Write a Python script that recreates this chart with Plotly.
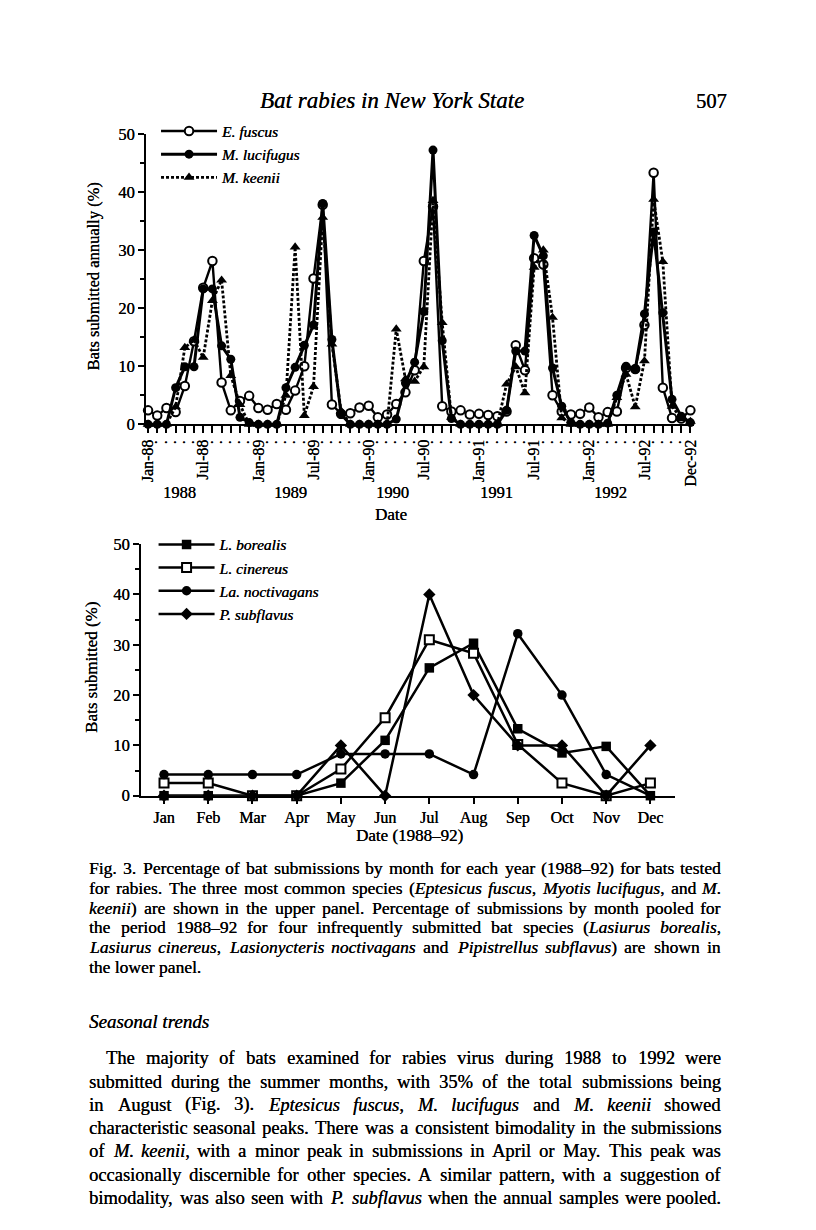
import re
import plotly.graph_objects as go

# Figure size; positions below are given in target-picture pixels and mapped to
# figure pixels with the offset/scale measured between earlier renders and the picture.
W, H = 800, 1214
MAP_A, MAP_S = 16.0, 0.986
SERIF = "Liberation Serif"
INK_CHART = "0.3px 0px 0px #000"   # slight thickening, like the printed scan
INK_TEXT = "0.15px 0px 0px #000"

# ---------------- data: upper panel (monthly, Jan-88 .. Dec-92) ----------------
years = ["88", "89", "90", "91", "92"]
month_names = ["Jan", "Feb", "Mar", "Apr", "May", "Jun",
               "Jul", "Aug", "Sep", "Oct", "Nov", "Dec"]
months_upper = [f"{m}-{y}" for y in years for m in month_names]
labelled_ticks = ["Jan-88", "Jul-88", "Jan-89", "Jul-89", "Jan-90", "Jul-90",
                  "Jan-91", "Jul-91", "Jan-92", "Jul-92", "Dec-92"]
year_labels = ["1988", "1989", "1990", "1991", "1992"]

e_fuscus = [
    2.4, 1.5, 2.8, 2.1, 6.6, 14.3, 23.5, 28.1, 7.2, 2.4, 4.0, 4.9,
    2.8, 2.5, 3.5, 2.5, 5.8, 10.0, 25.1, 37.8, 3.4, 1.8, 1.9, 2.9,
    3.2, 1.2, 1.7, 3.5, 5.5, 9.3, 28.1, 37.5, 3.1, 2.2, 2.4, 1.7,
    1.8, 1.6, 1.4, 2.2, 13.6, 9.3, 28.6, 27.5, 5.0, 2.2, 1.7, 1.8,
    2.9, 1.2, 2.1, 2.2, 9.7, 9.5, 17.1, 43.3, 6.3, 1.1, 1.0, 2.4]
m_lucifugus = [
    0, 0, 0, 6.3, 9.9, 9.9, 23.3, 23.3, 13.5, 11.2, 1.2, 0.3,
    0, 0, 0, 6.3, 9.8, 13.6, 17.1, 38.0, 14.6, 1.7, 0, 0,
    0, 0, 0, 0.9, 7.1, 10.7, 19.4, 47.2, 14.4, 1.0, 0, 0,
    0, 0, 0, 2.4, 12.6, 12.6, 32.5, 29.0, 9.7, 3.1, 0.3, 0,
    0, 0, 0.2, 5.0, 10.0, 9.5, 19.0, 33.1, 19.2, 4.3, 1.4, 0.3]
m_keenii = [
    0, 0, 0, 3.0, 13.2, 14.5, 11.5, 21.3, 24.8, 8.4, 3.4, 0,
    0, 0, 0, 5.0, 30.5, 1.5, 6.5, 35.6, 13.8, 2.3, 0, 0,
    0, 0, 0, 16.4, 7.8, 7.4, 9.9, 38.5, 17.5, 1.2, 0, 0,
    0, 0, 0, 6.9, 9.9, 5.4, 27.0, 30.0, 18.4, 1.1, 0, 0,
    0, 0, 0, 4.6, 8.6, 3.0, 10.9, 38.7, 28.0, 3.1, 1.0, 0.5]

# ---------------- data: lower panel (pooled by month) ----------------
months_lower = month_names
l_borealis = [0, 0, 0, 0, 2.5, 11.0, 25.4, 30.3, 13.3, 8.5, 9.8, 0]
l_cinereus = [2.5, 2.5, 0, 0, 5.3, 15.5, 31.0, 28.3, 10.2, 2.5, 0, 2.5]
la_noctivagans = [4.2, 4.2, 4.2, 4.2, 8.3, 8.3, 8.3, 4.2, 32.2, 20.0, 4.2, 0]
p_subflavus = [0, 0, 0, 0, 10.0, 0, 40.0, 20.0, 10.0, 10.0, 0, 10.0]

# ---------------- text ----------------
header_title = "<i>Bat rabies in New York State</i>"
page_number = "507"
caption_lines = [
    "Fig. 3. Percentage of bat submissions by month for each year (1988–92) for bats tested",
    "for rabies. The three most common species (<i>Eptesicus fuscus</i>, <i>Myotis lucifugus</i>, and <i>M</i>.",
    "<i>keenii</i>) are shown in the upper panel. Percentage of submissions by month pooled for",
    "the period 1988–92 for four infrequently submitted bat species (<i>Lasiurus borealis</i>,",
    "<i>Lasiurus cinereus</i>, <i>Lasionycteris noctivagans</i> and <i>Pipistrellus subflavus</i>) are shown in",
    "the lower panel.",
]
section_title = "<i>Seasonal trends</i>"
body_lines = [
    "The majority of bats examined for rabies virus during 1988 to 1992 were",
    "submitted during the summer months, with 35% of the total submissions being",
    "in August (Fig. 3). <i>Eptesicus fuscus</i>, <i>M. lucifugus</i> and <i>M. keenii</i> showed",
    "characteristic seasonal peaks. There was a consistent bimodality in the submissions",
    "of <i>M. keenii</i>, with a minor peak in submissions in April or May. This peak was",
    "occasionally discernible for other species. A similar pattern, with a suggestion of",
    "bimodality, was also seen with <i>P. subflavus</i> when the annual samples were pooled.",
]


def px_x(p):
    return ((p - MAP_A) / MAP_S) / W


def px_y(p):
    return 1 - ((p - MAP_A) / MAP_S) / H


def font(size, ink=INK_CHART):
    return dict(family=SERIF, size=size, color="black", shadow=ink)


fig = go.Figure()

# upper panel traces
fig.add_trace(go.Scatter(
    x=months_upper, y=e_fuscus, name="<i>E. fuscus</i>", mode="lines+markers",
    line=dict(color="black", width=2.4),
    marker=dict(symbol="circle", size=8.5, color="white", line=dict(color="black", width=2)),
    cliponaxis=False, xaxis="x", yaxis="y", legend="legend"))
fig.add_trace(go.Scatter(
    x=months_upper, y=m_lucifugus, name="<i>M. lucifugus</i>", mode="lines+markers",
    line=dict(color="black", width=3),
    marker=dict(symbol="circle", size=9, color="black"),
    cliponaxis=False, xaxis="x", yaxis="y", legend="legend"))
fig.add_trace(go.Scatter(
    x=months_upper, y=m_keenii, name="<i>M. keenii</i>", mode="lines+markers",
    line=dict(color="black", width=2.8, dash="3px,2px"),
    marker=dict(symbol="triangle-up", size=9.5, color="black"),
    cliponaxis=False, xaxis="x", yaxis="y", legend="legend"))

# lower panel traces
fig.add_trace(go.Scatter(
    x=months_lower, y=l_borealis, name="<i>L. borealis</i>", mode="lines+markers",
    line=dict(color="black", width=2.5),
    marker=dict(symbol="square", size=9.5, color="black"),
    cliponaxis=False, xaxis="x2", yaxis="y2", legend="legend2"))
fig.add_trace(go.Scatter(
    x=months_lower, y=l_cinereus, name="<i>L. cinereus</i>", mode="lines+markers",
    line=dict(color="black", width=2.5),
    marker=dict(symbol="square", size=9, color="white", line=dict(color="black", width=2)),
    cliponaxis=False, xaxis="x2", yaxis="y2", legend="legend2"))
fig.add_trace(go.Scatter(
    x=months_lower, y=la_noctivagans, name="<i>La. noctivagans</i>", mode="lines+markers",
    line=dict(color="black", width=2.5),
    marker=dict(symbol="circle", size=9.5, color="black"),
    cliponaxis=False, xaxis="x2", yaxis="y2", legend="legend2"))
fig.add_trace(go.Scatter(
    x=months_lower, y=p_subflavus, name="<i>P. subflavus</i>", mode="lines+markers",
    line=dict(color="black", width=2.5),
    marker=dict(symbol="diamond", size=9.5, color="black"),
    cliponaxis=False, xaxis="x2", yaxis="y2", legend="legend2"))


def axis_style(tick_size):
    return dict(showline=True, linecolor="black", linewidth=2, showgrid=False,
                zeroline=False, ticks="outside", tickcolor="black", tickwidth=2,
                tickfont=font(tick_size))


minor_ticks = dict(ticks="outside", dtick=5, tick0=0, ticklen=4,
                   tickwidth=1.5, tickcolor="black")
upper_ticktext = [m if m in labelled_ticks else "·" for m in months_upper]

fig.update_layout(
    width=W, height=H, autosize=False,
    margin=dict(l=0, r=0, t=0, b=0),
    paper_bgcolor="white", plot_bgcolor="white",
    font=dict(family=SERIF, color="black"),
    xaxis=dict(domain=[px_x(147), px_x(695)], anchor="y", type="category",
               categoryorder="array", categoryarray=months_upper,
               range=[-0.22, 59.41], tickmode="array", tickvals=months_upper,
               ticktext=upper_ticktext, tickangle=-90, ticklen=7,
               **axis_style(16)),
    yaxis=dict(domain=[px_y(424), px_y(133)], anchor="x", range=[0, 50],
               tickmode="linear", tick0=0, dtick=10, ticklen=6,
               minor=minor_ticks, **axis_style(16.5)),
    xaxis2=dict(domain=[px_x(142), px_x(676)], anchor="y2", type="category",
                categoryorder="array", categoryarray=months_lower,
                range=[-0.52, 11.56], ticklen=6, **axis_style(16)),
    yaxis2=dict(domain=[px_y(796), px_y(544)], anchor="x2", range=[0, 50],
                tickmode="linear", tick0=0, dtick=10, ticklen=6,
                minor=minor_ticks, **axis_style(16.5)),
    legend=dict(x=143 / W, y=1 - 99 / H, xanchor="left", yanchor="top",
                bgcolor="rgba(0,0,0,0)", font=font(15.5),
                itemwidth=56, tracegroupgap=0, itemclick=False),
    legend2=dict(x=140.5 / W, y=1 - 519 / H, xanchor="left", yanchor="top",
                 bgcolor="rgba(0,0,0,0)", font=font(15.5),
                 itemwidth=56, tracegroupgap=0, itemclick=False),
    showlegend=True,
)

annotations = []


def ann(text, x, y, size, xanchor="center", yanchor="middle", angle=0, ink=INK_CHART):
    annotations.append(dict(
        text=text, x=px_x(x), y=px_y(y), xref="paper", yref="paper",
        xanchor=xanchor, yanchor=yanchor, showarrow=False, textangle=angle,
        borderpad=0, borderwidth=0, font=font(size, ink)))


# --- Times-compatible advance widths (per 1000 em) used to justify text lines ---
ROMAN = dict(zip(" abcdefghijklmnopqrstuvwxyz",
                 [250, 444, 500, 444, 500, 444, 333, 500, 500, 278, 278, 500, 278, 778,
                  500, 500, 500, 500, 333, 389, 278, 500, 500, 722, 500, 500, 444]))
ROMAN.update(dict(zip("ABCDEFGHIJKLMNOPQRSTUVWXYZ",
                      [722, 667, 667, 722, 611, 556, 722, 722, 333, 389, 722, 611, 889,
                       722, 722, 556, 722, 667, 556, 611, 722, 722, 944, 722, 722, 611])))
ITALIC = dict(zip(" abcdefghijklmnopqrstuvwxyz",
                  [250, 500, 500, 444, 500, 444, 278, 500, 500, 278, 278, 444, 278, 722,
                   500, 500, 500, 500, 389, 389, 278, 500, 444, 667, 444, 444, 389]))
ITALIC.update(dict(zip("ABCDEFGHIJKLMNOPQRSTUVWXYZ",
                       [611, 611, 667, 722, 611, 611, 722, 722, 333, 444, 667, 556, 833,
                        667, 722, 611, 722, 611, 500, 556, 722, 611, 833, 611, 556, 556])))
PUNCT = {".": 250, ",": 250, "(": 333, ")": 333, "%": 833, "–": 500, "-": 333,
         ";": 278, ":": 278}
for d in (ROMAN, ITALIC):
    d.update(PUNCT)
    d.update({str(k): 500 for k in range(10)})


def parse_words(line):
    words, cur, buf, italic = [], [], "", False
    for tok in re.split(r"(<i>|</i>| )", line):
        if tok in ("<i>", "</i>", " "):
            if buf:
                cur.append((buf, italic))
                buf = ""
            if tok == "<i>":
                italic = True
            elif tok == "</i>":
                italic = False
            elif cur:
                words.append(cur)
                cur = []
        elif tok:
            buf += tok
    if buf:
        cur.append((buf, italic))
    if cur:
        words.append(cur)
    return words


def word_width(segs, size):
    # width as seen in the picture (figure px times the measured scale)
    total = 0
    for text, it in segs:
        table = ITALIC if it else ROMAN
        total += sum(table.get(c, 500) for c in text)
    return total * size / 1000.0 * MAP_S


def word_html(segs):
    return "".join(f"<i>{t}</i>" if it else t for t, it in segs)


def justified(line, left, right, y, size):
    words = parse_words(line)
    widths = [word_width(w, size) for w in words]
    gap = (right - left - sum(widths)) / max(len(words) - 1, 1)
    x = left
    for k, (w, wd) in enumerate(zip(words, widths)):
        if k == len(words) - 1 and k > 0:
            ann(word_html(w), right, y, size, xanchor="right", ink=INK_TEXT)
        else:
            ann(word_html(w), x, y, size, xanchor="left", ink=INK_TEXT)
        x += wd + gap


ann(header_title, 393, 100, 23, ink=INK_TEXT)
ann(page_number, 712, 100, 20.5)

year_x = [180, 291, 393, 497, 611]
for label, xp in zip(year_labels, year_x):
    ann(label, xp, 492, 16.5)
ann("Date", 392, 514, 17)
ann("Bats submitted annually (%)", 95, 276, 16.5, angle=-90)

ann("Bats submitted (%)", 93, 668, 17, angle=-90)
ann("Date (1988–92)", 410, 836, 17)

TEXT_L, TEXT_R = 90, 722
CAP_SIZE, BODY_SIZE = 17.5, 18.5
for i, line in enumerate(caption_lines):
    y = 868 + 20 * i
    if i < len(caption_lines) - 1:
        justified(line, TEXT_L, TEXT_R, y, CAP_SIZE)
    else:
        ann(line, TEXT_L, y, CAP_SIZE, xanchor="left", ink=INK_TEXT)

ann(section_title, TEXT_L, 1022, 19, xanchor="left", ink=INK_TEXT)
for i, line in enumerate(body_lines):
    justified(line, 107 if i == 0 else TEXT_L, TEXT_R, 1059 + 23.3 * i, BODY_SIZE)

fig.update_layout(annotations=annotations)

fig.write_html("out.html")
